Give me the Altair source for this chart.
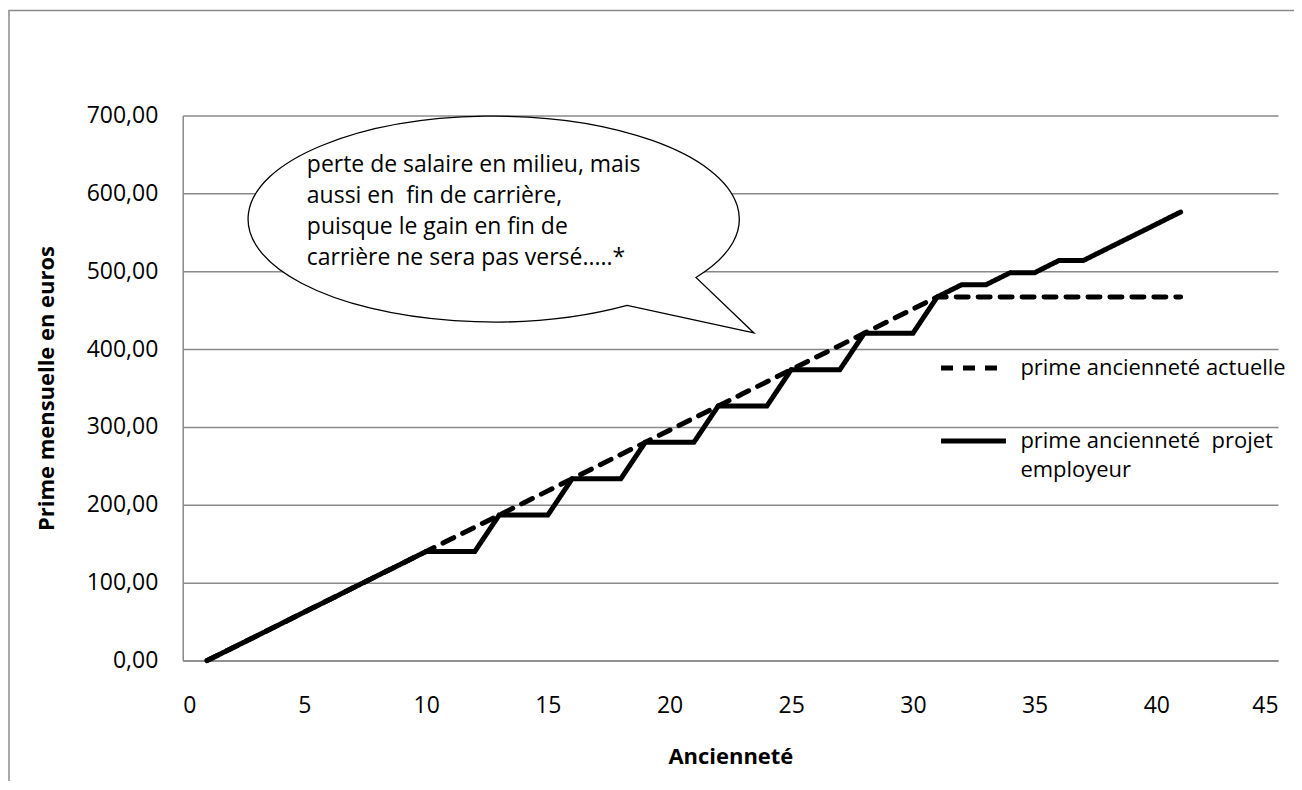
import altair as alt
import pandas as pd

# ---- data ----
annees = list(range(1, 42))
actuelle = [0.0, 15.6, 31.1, 46.7, 62.3, 77.8, 93.4, 109.0, 124.5, 140.1,
            155.7, 171.2, 186.8, 202.4, 217.9, 233.5, 249.1, 264.6, 280.2, 295.8,
            311.3, 326.9, 342.5, 358.0, 373.6, 389.2, 404.7, 420.3, 435.9, 451.4,
            467.0, 467.0, 467.0, 467.0, 467.0, 467.0, 467.0, 467.0, 467.0, 467.0, 467.0]
projet = [0.0, 15.6, 31.1, 46.7, 62.3, 77.8, 93.4, 109.0, 124.5, 140.1,
          140.1, 140.1, 186.8, 186.8, 186.8, 233.5, 233.5, 233.5, 280.2, 280.2,
          280.2, 326.9, 326.9, 326.9, 373.6, 373.6, 373.6, 420.3, 420.3, 420.3,
          467.0, 482.6, 482.6, 498.1, 498.1, 513.7, 513.7, 529.3, 544.8, 560.4, 576.0]
series = ["prime ancienneté actuelle", "prime ancienneté\u00a0 projet employeur"]
serie2_lignes = ["prime ancienneté\u00a0 projet", "employeur"]
x_ticks = [0, 5, 10, 15, 20, 25, 30, 35, 40, 45]
y_ticks = [0, 100, 200, 300, 400, 500, 600, 700]
bulle_lignes = ["perte de salaire en milieu, mais",
                "aussi en\u00a0 fin de carrière,",
                "puisque le gain en fin de",
                "carrière ne sera pas versé.....*"]

df = pd.DataFrame({
    "annee": annees + annees,
    "prime": actuelle + projet,
    "serie": [series[0]] * len(annees) + [series[1]] * len(annees),
})
one = pd.DataFrame({"k": [0]})

FONT = "Open Sans"
GREY = "#8a8a8a"

legend = alt.Legend(
    orient="none", legendX=757, legendY=218, title=None,
    labelExpr="datum.label == '" + series[1] + "' ? ['" + serie2_lignes[0] + "', '"
              + serie2_lignes[1] + "'] : datum.label",
    symbolType="stroke", symbolSize=4225, symbolStrokeWidth=5,
    symbolStrokeColor="black", labelFont=FONT, labelFontSize=22,
    labelColor="black", labelLimit=600, labelOffset=12, rowPadding=27, padding=0,
)

lines = alt.Chart(df).mark_line(strokeWidth=5, strokeCap="round", color="black").encode(
    x=alt.X("annee:Q", scale=alt.Scale(domain=[0, 45], nice=False),
            axis=alt.Axis(values=x_ticks, title="Ancienneté", grid=False,
                          labelPadding=34, titleY=103, titleBaseline="alphabetic")),
    y=alt.Y("prime:Q", scale=alt.Scale(domain=[0, 700], nice=False),
            axis=alt.Axis(values=y_ticks, title="Prime mensuelle en euros", grid=True,
                          labelPadding=25,
                          labelExpr="replace(format(datum.value, '.2f'), '.', ',')",
                          titleX=-129, titleY=273, titleBaseline="alphabetic")),
    strokeDash=alt.StrokeDash("serie:N",
                              scale=alt.Scale(domain=series, range=[[12, 10], [1, 0]]),
                              legend=legend),
)

frame = alt.Chart(one).mark_rect(fillOpacity=0, stroke=GREY, strokeWidth=1.5).encode(
    x=alt.value(-174), x2=alt.value(1300), y=alt.value(-105), y2=alt.value(800)
)

bubble_path = ("M 0.545 0.351 A 1 0.419 0 1 1 0.825 0.237 L 1.061 0.463 Z")
bubble = alt.Chart(one).mark_point(
    shape=bubble_path, size=242064, filled=True, fill="white", stroke="black",
    strokeWidth=1.3, opacity=1
).encode(x=alt.datum(12.76), y=alt.datum(566.7))

bubble_text = alt.Chart(one).mark_text(
    align="left", baseline="alphabetic", lineHeight=31, font=FONT, fontSize=23,
    color="black"
).encode(x=alt.datum(5.1), y=alt.datum(627), text=alt.value(bulle_lignes))

chart = alt.layer(frame, lines, bubble, bubble_text).properties(
    width=1097, height=546,
    padding={"left": 175, "top": 107, "right": 16, "bottom": 120},
    autosize=alt.AutoSizeParams(type="none"),
).configure(
    style={"guide-label": {"lineHeight": 29}}
).configure_axis(
    labelFont=FONT, labelFontSize=23, labelColor="black",
    titleFont=FONT, titleFontSize=22, titleFontWeight="bold", titleColor="black",
    domainColor=GREY, domainWidth=1.5, gridColor=GREY, gridWidth=1.5,
    ticks=False, tickSize=0,
).configure_view(strokeWidth=0)

chart.save("out.html", embed_options={"renderer": "svg", "actions": False})
